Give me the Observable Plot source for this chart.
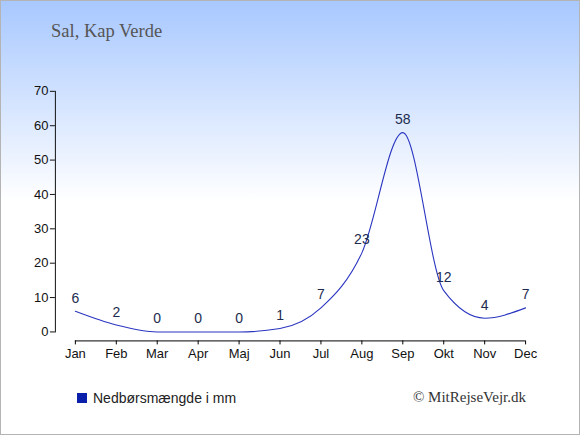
<!DOCTYPE html>
<html>
<head>
<meta charset="utf-8">
<script src="https://cdn.jsdelivr.net/npm/d3@7"></script>
<script src="https://cdn.jsdelivr.net/npm/@observablehq/plot@0.6"></script>
<style>
  html, body { margin: 0; padding: 0; }
  #wrap {
    position: relative; width: 580px; height: 435px; box-sizing: border-box;
    border: 1px solid #b4b4b4;
    background: linear-gradient(to bottom, #a8c8ff 0px, #ffffff 200px, #ffffff 435px);
    overflow: hidden;
  }
  #title {
    position: absolute; left: 50px; top: 20px;
    font-family: "Liberation Serif", serif; font-size: 18.5px; color: #555;
  }
  #chart { position: absolute; left: -1px; top: -1px; }
  #legend {
    position: absolute; left: 76px; top: 389px;
    font-family: "Liberation Sans", Arial, sans-serif; font-size: 14px; color: #222;
    display: flex; align-items: center;
  }
  #legend .sw { width: 10px; height: 10px; background: #0a1faa; margin-right: 6px; }
  #copy {
    position: absolute; right: 53px; top: 388px;
    font-family: "Liberation Serif", serif; font-size: 15px; color: #333;
  }
</style>
</head>
<body>
<div id="wrap">
  <div id="title">Sal, Kap Verde</div>
  <div id="chart"></div>
  <div id="legend"><span class="sw"></span><span>Nedbørsmængde i mm</span></div>
  <div id="copy">© MitRejseVejr.dk</div>
</div>
<script>
const months = ["Jan","Feb","Mar","Apr","Maj","Jun","Jul","Aug","Sep","Okt","Nov","Dec"];
const rain = [6, 2, 0, 0, 0, 1, 7, 23, 58, 12, 4, 7];
const yTicks = [0, 10, 20, 30, 40, 50, 60, 70];

const data = months.map((m, i) => ({month: m, value: rain[i]}));

const chart = Plot.plot({
  width: 580,
  height: 380,
  marginLeft: 55,
  marginRight: 30,
  marginTop: 91,
  marginBottom: 48,
  style: {background: "transparent", fontFamily: "'Liberation Sans', Arial, sans-serif", fontSize: "13px", color: "#111"},
  x: {type: "point", domain: months, padding: 0, range: [75, 526], label: null, axis: null},
  y: {domain: [0, 70], ticks: yTicks, tickSize: 5, tickPadding: 2, line: true, label: null},
  marks: [
    Plot.ruleY([0], {x1: () => months[0], x2: () => months[months.length - 1], dy: 9, stroke: "#000"}),
    Plot.axisX({tickSize: 4, dy: 9, tickPadding: 4, label: null, stroke: "#000", fill: "#111"}),
    Plot.line(data, {x: "month", y: "value", curve: "monotone-x", stroke: "#2a35c0", strokeWidth: 1.1}),
    Plot.text(data, {x: "month", y: "value", text: d => String(d.value), dy: -13, fill: "#1c2b4e", fontSize: 14})
  ]
});
document.getElementById("chart").appendChild(chart);
</script>
</body>
</html>
